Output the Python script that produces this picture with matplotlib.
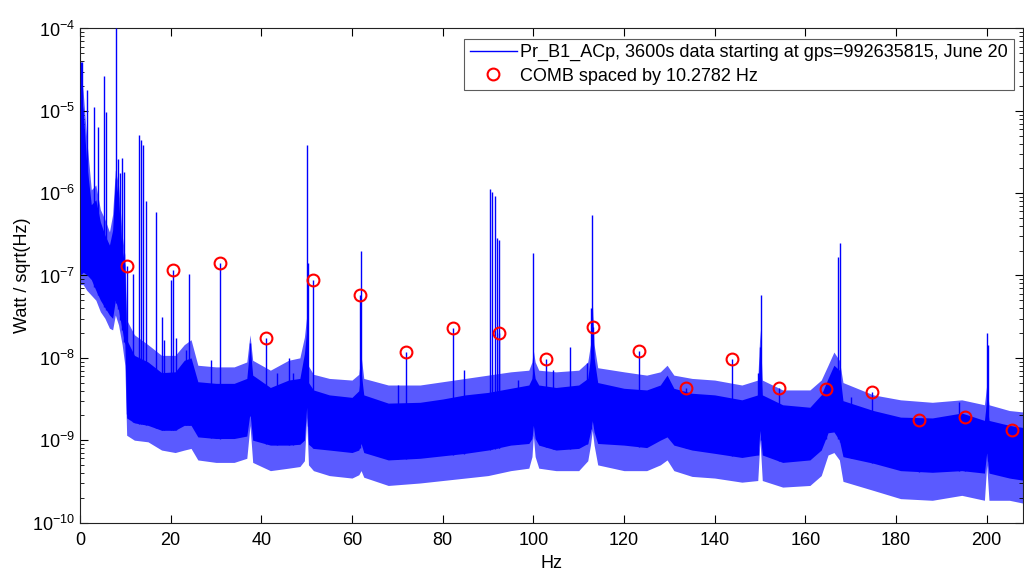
import numpy as np
import matplotlib
matplotlib.use("Agg")
import matplotlib.pyplot as plt
from matplotlib.ticker import FixedLocator, FuncFormatter, LogLocator, NullFormatter

# ---------------- data (log10 of amplitude, Watt/sqrt(Hz)) ----------------
band_f = [0.0, 0.7, 1.5, 2.5, 3.5, 4.5, 5.5, 6.5, 7.2, 7.8, 8.5, 9.3, 9.9, 10.3, 12, 15, 18, 21, 23, 24.5,
          26, 30, 34, 36.8, 37.5, 38.1, 42, 46, 48.5, 49.5, 50.0, 50.4, 51.5, 55, 60, 61.5, 62, 62.6, 68, 75, 80, 85,
          90, 95, 99.0, 99.7, 100, 100.4, 101.2, 105, 110, 112.0, 112.6, 113, 113.4, 114.2, 120, 125, 128, 129.5, 131,
          135, 140, 146, 149.5, 150, 150.5, 155, 161, 163.5, 165, 166.3, 167.5, 168.3, 175, 181, 188, 194.5, 199.5,
          200, 200.5, 205, 208.5]
core_top = [-4.72, -4.99, -5.65, -6.14, -6.08, -6.35, -6.51, -6.63, -6.45, -5.81, -6.08, -6.69, -6.87, -7.78,
            -7.97, -8.05, -8.18, -8.17, -8.03, -8.00, -8.29, -8.31, -8.31, -8.25, -7.84, -8.21, -8.36, -8.27,
            -8.25, -7.95, -7.68, -8.30, -8.39, -8.45, -8.48, -8.40, -8.17, -8.45, -8.55, -8.54, -8.50, -8.45,
            -8.42, -8.37, -8.33, -8.25, -8.09, -8.25, -8.33, -8.36, -8.33, -8.25, -8.00, -7.42, -8.00, -8.30,
            -8.37, -8.39, -8.33, -8.21, -8.37, -8.43, -8.45, -8.51, -8.45, -7.84, -8.45, -8.57, -8.60, -8.45,
            -8.25, -8.09, -8.15, -8.52, -8.64, -8.72, -8.73, -8.67, -8.76, -8.51, -8.76, -8.82, -8.85]
core_bot = [-6.99, -6.96, -6.99, -7.05, -7.18, -7.30, -7.39, -7.48, -7.52, -7.30, -7.42, -7.66, -7.84, -8.73,
            -8.79, -8.82, -8.88, -8.88, -8.82, -8.82, -8.96, -8.98, -8.98, -8.95, -8.67, -9.00, -9.06, -9.06,
            -9.05, -9.00, -8.60, -9.05, -9.10, -9.12, -9.15, -9.12, -9.04, -9.15, -9.24, -9.22, -9.19, -9.16,
            -9.12, -9.06, -9.04, -8.98, -8.82, -8.98, -9.06, -9.12, -9.10, -9.04, -8.90, -8.76, -8.90, -9.04,
            -9.06, -9.09, -9.00, -8.96, -9.06, -9.12, -9.16, -9.21, -9.18, -8.88, -9.18, -9.27, -9.24, -9.12,
            -8.91, -8.90, -9.00, -9.20, -9.28, -9.37, -9.39, -9.37, -9.40, -9.15, -9.40, -9.46, -9.49]
fringe_top = [-4.41, -4.77, -5.35, -5.96, -5.90, -6.20, -6.32, -6.47, -6.26, -5.72, -5.90, -6.51, -6.75, -7.54,
              -7.72, -7.84, -7.97, -7.97, -7.84, -7.78, -8.09, -8.11, -8.11, -8.05, -7.72, -8.03, -8.15, -8.03,
              -8.00, -7.75, -7.50, -8.10, -8.20, -8.25, -8.27, -8.20, -7.97, -8.25, -8.33, -8.33, -8.29, -8.25,
              -8.21, -8.17, -8.15, -8.05, -7.91, -8.05, -8.15, -8.17, -8.15, -8.05, -7.84, -7.30, -7.84, -8.12,
              -8.17, -8.21, -8.17, -8.09, -8.21, -8.25, -8.27, -8.33, -8.27, -7.66, -8.27, -8.39, -8.39, -8.27,
              -8.09, -7.93, -8.03, -8.30, -8.45, -8.51, -8.54, -8.51, -8.57, -8.33, -8.57, -8.64, -8.66]
fringe_bot = [-7.11, -7.11, -7.18, -7.24, -7.30, -7.44, -7.52, -7.64, -7.66, -7.48, -7.60, -7.84, -8.09, -8.94,
              -9.00, -9.02, -9.12, -9.15, -9.12, -9.10, -9.24, -9.27, -9.27, -9.22, -8.82, -9.27, -9.37, -9.34,
              -9.32, -9.25, -8.72, -9.30, -9.37, -9.43, -9.46, -9.42, -9.37, -9.45, -9.55, -9.52, -9.49, -9.46,
              -9.43, -9.37, -9.34, -9.20, -8.94, -9.20, -9.34, -9.37, -9.37, -9.25, -9.06, -8.88, -9.06, -9.30,
              -9.37, -9.37, -9.30, -9.24, -9.37, -9.44, -9.46, -9.51, -9.49, -9.00, -9.49, -9.57, -9.55, -9.43,
              -9.18, -9.15, -9.24, -9.50, -9.61, -9.71, -9.73, -9.67, -9.73, -9.30, -9.73, -9.73, -9.77]

line_f = [0.15, 0.45, 1.6, 3.2, 4.0, 5.4, 5.8, 8.0, 8.4, 8.9, 9.3, 9.8, 11.6, 13.1, 13.5, 13.8, 14.6, 16.8,
          18.2, 18.6, 20.0, 21.2, 23.4, 24.0, 28.9, 37.4, 43.5, 46.0, 47.0, 50.0, 50.2, 62.0, 70.2, 84.7,
          90.4, 90.9, 91.5, 92.0, 92.5, 96.6, 100.0, 104.3, 108.0, 111.8, 112.7, 113.0, 149.5, 150.0, 150.2,
          167.3, 167.6, 170.1, 193.9, 200.0, 200.2]
line_top = [-4.41, -4.41, -4.75, -4.95, -5.20, -4.58, -5.02, -4.00, -5.59, -5.75, -5.57, -5.74, -6.98, -5.29,
            -5.35, -5.41, -6.10, -6.23, -7.50, -7.78, -7.05, -7.76, -7.91, -6.98, -8.03, -7.82, -8.18, -8.00,
            -8.18, -5.41, -6.85, -6.70, -8.33, -8.15, -5.95, -5.98, -6.04, -6.54, -6.57, -8.27, -6.73, -8.15,
            -7.87, -8.06, -7.39, -6.26, -8.18, -7.87, -7.24, -6.77, -6.60, -8.48, -8.54, -7.70, -7.84]

comb_f = [10.28, 20.56, 30.83, 41.11, 51.39, 61.67, 71.95, 82.23, 92.50, 102.78,
          113.06, 123.34, 133.62, 143.89, 154.17, 164.45, 174.73, 185.01, 195.29, 205.56]
comb_amp = [-6.88, -6.93, -6.85, -7.76, -7.05, -7.24, -7.93, -7.64, -7.70, -8.01,
            -7.63, -7.92, -8.37, -8.01, -8.37, -8.38, -8.42, -8.76, -8.72, -8.88]

x_ticks = [0, 20, 40, 60, 80, 100, 120, 140, 160, 180, 200]
y_decades = [-10, -9, -8, -7, -6, -5, -4]
series_label = "Pr_B1_ACp, 3600s data starting at gps=992635815, June 20"
comb_label = "COMB spaced by 10.2782 Hz"

# ---------------- figure ----------------
plt.rcParams['font.family'] = ['Liberation Sans', 'DejaVu Sans']
plt.rcParams['mathtext.fontset'] = 'custom'
plt.rcParams['mathtext.rm'] = 'Liberation Sans'

fig = plt.figure(figsize=(10.24, 5.73), dpi=100)
ax = fig.add_axes([0.0781, 0.0881, 0.9209, 0.8622])

bf = np.array(band_f)
p = lambda a: 10.0 ** np.asarray(a)
blue = '#0000ff'

ax.fill_between(bf, p(fringe_bot), p(fringe_top), color='#5a5aff', lw=0, zorder=1)
ax.fill_between(bf, p(core_bot), p(core_top), color=blue, lw=0, zorder=2)

lf = np.array(line_f)
base = np.interp(lf, bf, core_bot)
ax.vlines(lf, p(base), p(line_top), color=blue, lw=1.0, zorder=3)

cf = np.array(comb_f)
cbase = np.interp(cf, bf, core_bot)
ax.vlines(cf, p(cbase), p(comb_amp), color=blue, lw=1.0, zorder=3)

ax.plot([], [], color=blue, lw=1.0, label=series_label)
ax.plot(cf, p(comb_amp), 'o', ls='none', mfc='none', mec='#ff0000', ms=8.5, mew=1.5,
        label=comb_label, zorder=4)

ax.set_yscale('log')
ax.set_xlim(0, 208)
ax.set_ylim(1e-10, 1e-4)

ax.xaxis.set_major_locator(FixedLocator(x_ticks))
ax.yaxis.set_major_locator(FixedLocator([10.0 ** d for d in y_decades]))
ax.yaxis.set_major_formatter(FuncFormatter(lambda v, pos: r'$\mathregular{10^{%d}}$' % int(round(np.log10(v)))))
ax.yaxis.set_minor_locator(LogLocator(base=10, subs=np.arange(2, 10)))
ax.yaxis.set_minor_formatter(NullFormatter())

ax.tick_params(which='both', direction='in', top=True, right=True, labelsize=13, colors='black')
ax.tick_params(which='major', length=6, width=0.8)
ax.tick_params(which='minor', length=3, width=0.6)
ax.tick_params(axis='x', which='major', pad=7)
for s in ax.spines.values():
    s.set_linewidth(0.8)
    s.set_color('#222222')

ax.set_xlabel('Hz', fontsize=13, labelpad=4)
ax.set_ylabel('Watt / sqrt(Hz)', fontsize=13, labelpad=1)

leg = ax.legend(loc='upper right', bbox_to_anchor=(0.990, 0.979), fontsize=13, frameon=True,
                fancybox=False, edgecolor='#333333', handlelength=2.6, handletextpad=0.2,
                borderpad=0.3, labelspacing=0.35, borderaxespad=0.0)
leg.get_frame().set_linewidth(0.8)

fig.savefig('out.png', dpi=100)
